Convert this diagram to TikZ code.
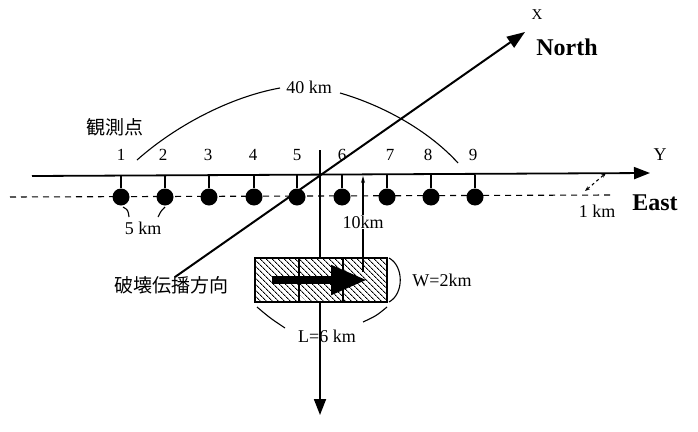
\documentclass[tikz,border=0pt]{standalone}
\usepackage{fontspec}
\setmainfont{Liberation Serif}
\newfontfamily\cjk{Noto Sans CJK JP}
\usetikzlibrary{arrows.meta,patterns.meta}
\begin{document}
\begin{tikzpicture}[x=1pt,y=-1pt,
  axis/.style={line width=1.8pt},
  dotn/.style={circle,fill=black,inner sep=0pt,minimum size=17pt},
  stem/.style={line width=1.4pt},
  thinl/.style={line width=1.1pt},
  lbl/.style={font=\fontsize{18}{21}\selectfont,inner sep=1pt},
  num/.style={font=\fontsize{17}{20}\selectfont,inner sep=1pt},
  jp/.style={font=\cjk\fontsize{19}{22}\selectfont,inner sep=1pt},
  bigl/.style={font=\bfseries\fontsize{24}{28}\selectfont,inner sep=1pt},
  headA/.style={-{Triangle[length=16pt,width=12pt]}},
  cell/.style={draw,line width=1.5pt,minimum width=44pt,minimum height=44pt,inner sep=0pt,
    preaction={fill=white},pattern={Lines[angle=-45,distance=4pt,line width=0.9pt]}}
]
\useasboundingbox (0,0) rectangle (698,431);
\fill[white] (0,0) rectangle (698,431);
% horizontal axis and dashed line
\coordinate (yl) at (32,176);
\coordinate (yr) at (650,173);
\coordinate (dl) at (10,197);
\coordinate (dr) at (612,195);
\draw[line width=1.1pt,dash pattern=on 6pt off 5pt] (dl) -- (dr);
\draw[axis,headA] (yl) -- (yr);
% vertical axis
\coordinate (vt) at (320,150);
\coordinate (vb) at (320,415);
\draw[axis,headA] (vt) -- (vb);
% diagonal X axis
\coordinate (xs) at (175,277);
\coordinate (xe) at (525,32);
\draw[line width=2pt,-{Triangle[length=18pt,width=13pt]}] (xs) -- (xe);
% stations
\foreach \i/\x/\lx in {1/121/121,2/165/163,3/209/208,4/254/253,5/297/297,6/342/342,7/387/390,8/431/428,9/475/473}{
  \coordinate (s\i) at (\x,175);
  \node[dotn] (d\i) at (\x,197) {};
  \draw[stem] (s\i) -- (d\i);
  \node[num] (n\i) at (\lx,155) {\i};
}
% fault rectangle
\node[cell] (c1) at (277,280) {};
\node[cell] (c2) at (321,280) {};
\node[cell] (c3) at (365,280) {};
% rupture arrow
\coordinate (as) at (272,280);
\coordinate (ae) at (367,280);
\draw[line width=8pt,-{Triangle[length=36pt,width=28pt]}] (as) -- (ae);
% 10 km arrow
\coordinate (kb) at (363,272);
\coordinate (kt) at (363,176);
\draw[thinl,-{Stealth[length=7pt,width=4pt]}] (kb) -- (kt);
\node[lbl,fill=white] (k10) at (363,222) {10km};
% 1 km arrow
\coordinate (ka) at (585,191);
\coordinate (kc) at (606,173);
\draw[thinl,dashed,{Stealth[length=5pt]}-{Stealth[length=5pt]}] (ka) -- (kc);
% labels
\node[lbl] (Y) at (660,155) {Y};
\node[font=\fontsize{15}{17}\selectfont,inner sep=1pt] (X) at (537,15) {X};
\node[bigl] (north) at (567,47) {North};
\node[bigl] (east) at (655,203) {East};
\node[lbl] (km1) at (597,211) {1 km};
\node[jp] (obs) at (115,127) {観測点};
\node[lbl] (km40) at (309,87) {40 km};
\node[lbl] (km5) at (143,228) {5 km};
\node[jp] (dir) at (171,285) {破壊伝播方向};
\node[lbl] (W) at (442,280) {W=2km};
\node[lbl] (L) at (327,336) {L=6 km};
% 40 km arc
\coordinate (a1) at (137,160);
\coordinate (a2) at (280,88);
\coordinate (a3) at (340,93);
\coordinate (a4) at (458,163);
\draw[thinl] (a1) .. controls (180,122) and (235,96) .. (a2);
\draw[thinl] (a3) .. controls (385,106) and (430,132) .. (a4);
% 5 km brackets
\coordinate (b1) at (123,207);
\coordinate (b2) at (129,217);
\coordinate (b3) at (165,207);
\coordinate (b4) at (158,217);
\draw[thinl] (b1) .. controls (128,210) .. (b2);
\draw[thinl] (b3) .. controls (161,211) .. (b4);
% W brace
\coordinate (w1) at (389,258);
\coordinate (w2) at (389,302);
\draw[thinl] (w1) .. controls (404,266) and (404,294) .. (w2);
% L brackets
\coordinate (l1) at (257,307);
\coordinate (l2) at (285,328);
\coordinate (l3) at (387,307);
\coordinate (l4) at (363,322);
\draw[thinl] (l1) .. controls (270,318) .. (l2);
\draw[thinl] (l3) .. controls (376,316) .. (l4);
\end{tikzpicture}
\end{document}
